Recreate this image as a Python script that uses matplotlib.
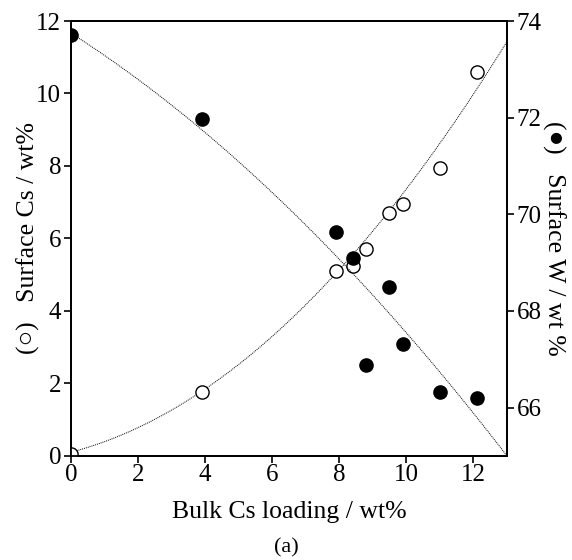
# Surface Cs and surface W vs bulk Cs loading, twin y axes

import numpy as np
import matplotlib.pyplot as plt

plt.rcParams['font.family'] = ['Liberation Serif', 'DejaVu Sans']

# data
bulk_cs = [0.0, 3.9, 7.9, 8.4, 8.8, 9.5, 9.9, 11.0, 12.1]
surface_cs = [0.05, 1.76, 5.10, 5.24, 5.70, 6.70, 6.94, 7.94, 10.6]
surface_w = [73.70, 71.97, 69.63, 69.09, 66.87, 68.50, 67.32, 66.32, 66.19]

# fitted trend curves (quadratic, highest power first)
fit_cs = [0.0484, 0.242, 0.10]
fit_w = [-0.0176, -0.444, 73.75]

fig = plt.figure(figsize=(5.72, 5.60), dpi=100)
ax = fig.add_axes([0.124, 0.186, 0.762, 0.7765])
ax2 = ax.twinx()

xs = np.linspace(0, 13, 200)
ax.plot(xs, np.polyval(fit_cs, xs), ls=(0, (1, 1)), color='black', lw=0.7)
ax2.plot(xs, np.polyval(fit_w, xs), ls=(0, (1, 1)), color='black', lw=0.7)

ax.plot(bulk_cs, surface_cs, 'o', mfc='white', mec='black', mew=1.0, ms=9.5, zorder=3)
ax2.plot(bulk_cs, surface_w, 'o', mfc='black', mec='black', ms=9.5, zorder=3)

ax.set_xlim(0, 13)
ax.set_ylim(0, 12)
ax2.set_ylim(65, 74)
ax.set_xticks([0, 2, 4, 6, 8, 10, 12])
ax.set_yticks([0, 2, 4, 6, 8, 10, 12])
ax2.set_yticks([66, 68, 70, 72, 74])

for a in (ax, ax2):
    for s in a.spines.values():
        s.set_linewidth(1.3)
    a.tick_params(direction='out', length=5, width=1.2, labelsize=18, pad=2)
ax.tick_params(axis='x', pad=1)

ax.set_xlabel('Bulk Cs loading / wt%', fontsize=18.5, labelpad=11)
ax.set_ylabel('(\u25cb)   Surface Cs / wt%', fontsize=18.5, labelpad=-3)
ax2.set_ylabel('(\u25cf)   Surface W / wt %', fontsize=18.5, rotation=270, labelpad=17)

fig.text(0.5, 0.022, '(a)', ha='center', va='center', fontsize=16)

fig.savefig('out.png', dpi=100)
